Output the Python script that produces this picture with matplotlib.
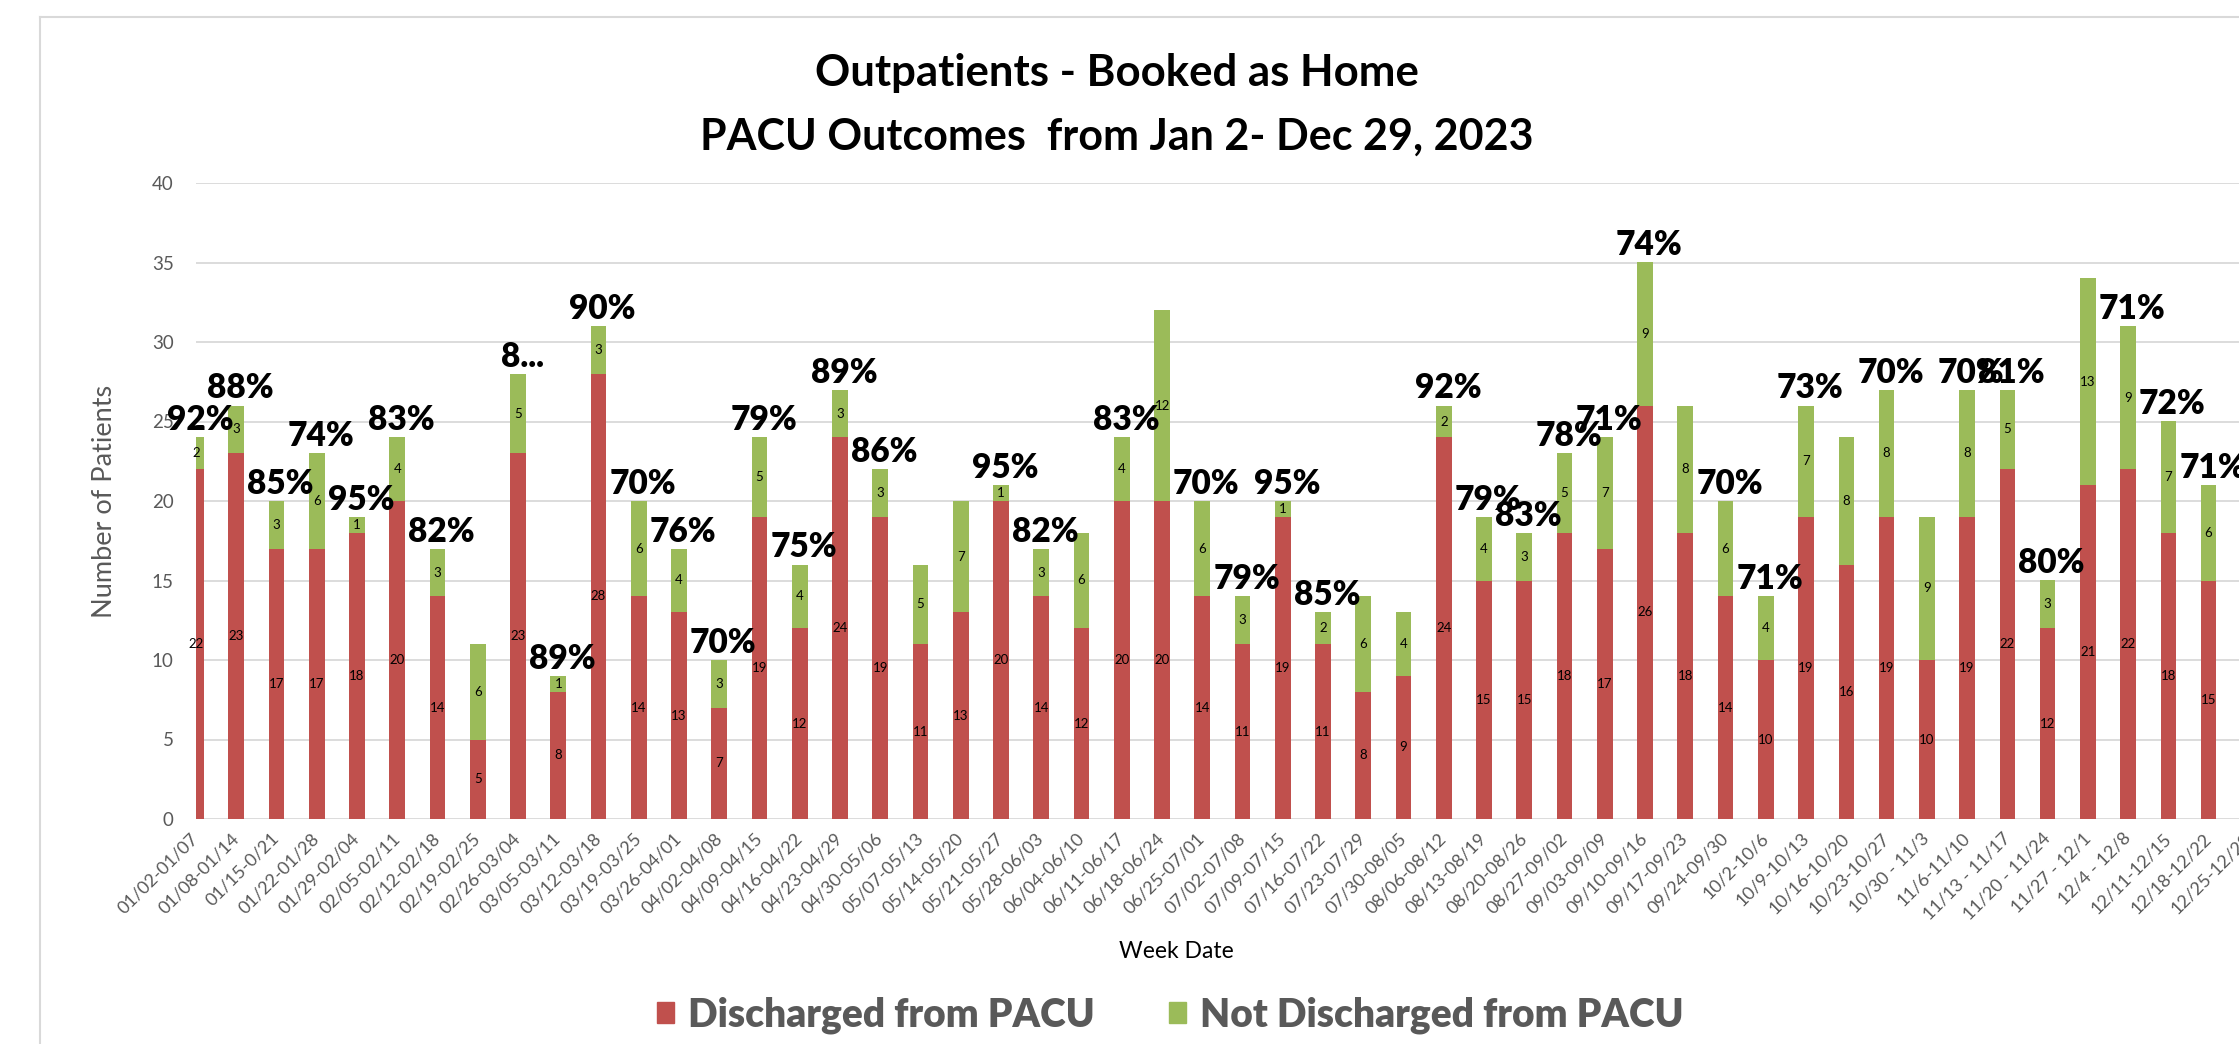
import matplotlib
matplotlib.use("Agg")
import matplotlib.pyplot as plt
from matplotlib.lines import Line2D
from matplotlib.patches import Patch

plt.rcParams['font.family'] = ['Lato', 'DejaVu Sans']

# week labels (last week is cut off at the right edge of the picture)
weeks = ['01/02-01/07', '01/08-01/14', '01/15-0/21', '01/22-01/28', '01/29-02/04',
         '02/05-02/11', '02/12-02/18', '02/19-02/25', '02/26-03/04', '03/05-03/11',
         '03/12-03/18', '03/19-03/25', '03/26-04/01', '04/02-04/08', '04/09-04/15',
         '04/16-04/22', '04/23-04/29', '04/30-05/06', '05/07-05/13', '05/14-05/20',
         '05/21-05/27', '05/28-06/03', '06/04-06/10', '06/11-06/17', '06/18-06/24',
         '06/25-07/01', '07/02-07/08', '07/09-07/15', '07/16-07/22', '07/23-07/29',
         '07/30-08/05', '08/06-08/12', '08/13-08/19', '08/20-08/26', '08/27-09/02',
         '09/03-09/09', '09/10-09/16', '09/17-09/23', '09/24-09/30', '10/2-10/6',
         '10/9-10/13', '10/16-10/20', '10/23-10/27', '10/30 - 11/3', '11/6-11/10',
         '11/13 - 11/17', '11/20 - 11/24', '11/27 - 12/1', '12/4 - 12/8', '12/11-12/15',
         '12/18-12/22', '12/25-12/29']

discharged = [22, 23, 17, 17, 18, 20, 14, 5, 23, 8,
              28, 14, 13, 7, 19, 12, 24, 19, 11, 13,
              20, 14, 12, 20, 20, 14, 11, 19, 11, 8,
              9, 24, 15, 15, 18, 17, 26, 18, 14, 10,
              19, 16, 19, 10, 19, 22, 12, 21, 22, 18,
              15]
not_discharged = [2, 3, 3, 6, 1, 4, 3, 6, 5, 1,
                  3, 6, 4, 3, 5, 4, 3, 3, 5, 7,
                  1, 3, 6, 4, 12, 6, 3, 1, 2, 6,
                  4, 2, 4, 3, 5, 7, 9, 8, 6, 4,
                  7, 8, 8, 9, 8, 5, 3, 13, 9, 7,
                  6]
# percentage labels as shown (only weeks at or above 70%)
pct_labels = ['92%', '88%', '85%', '74%', '95%', '83%', '82%', '', '8...', '89%',
              '90%', '70%', '76%', '70%', '79%', '75%', '89%', '86%', '', '',
              '95%', '82%', '', '83%', '', '70%', '79%', '95%', '85%', '',
              '', '92%', '79%', '83%', '78%', '71%', '74%', '', '70%', '71%',
              '73%', '', '70%', '', '70%', '81%', '80%', '', '71%', '72%',
              '71%']

RED = '#C0504D'
GREEN = '#9BBB59'
GRID = '#D9D9D9'
GRAY = '#595959'

W, H = 2239, 1044
fig = plt.figure(figsize=(W / 100, H / 100), dpi=100)

# plot area: x=0 sits on the left edge, right edge runs past the picture
left_px, right_px, top_px, bottom_px = 196, 2269, 183, 819
ax = fig.add_axes([left_px / W, 1 - bottom_px / H,
                   (right_px - left_px) / W, (bottom_px - top_px) / H])

x = list(range(len(discharged)))
ax.bar(x, discharged, width=0.39, color=RED, zorder=2, label='Discharged from PACU')
ax.bar(x, not_discharged, width=0.39, bottom=discharged, color=GREEN, zorder=2,
       label='Not Discharged from PACU')

for i in x:
    d, n = discharged[i], not_discharged[i]
    ax.text(i, d / 2, str(d), ha='center', va='center', fontsize=9.5,
            color='black', zorder=3, clip_on=False)
    ax.text(i, d + n / 2, str(n), ha='center', va='center', fontsize=9.5,
            color='black', zorder=3, clip_on=False)
    if pct_labels[i]:
        ax.text(i + 0.1, d + n + 0.45, pct_labels[i], ha='center', va='baseline',
                fontsize=24, fontweight='heavy', color='black', zorder=4,
                clip_on=False)

ax.set_xlim(0, 51.5)
ax.set_ylim(0, 40)
ax.set_yticks(range(0, 41, 5))
ax.tick_params(axis='y', length=0, pad=16, labelsize=13.5, labelcolor=GRAY)
ax.set_xticks(range(len(weeks)))
ax.set_xticklabels(weeks, rotation=45, ha='right', va='center',
                   rotation_mode='anchor', fontsize=13, color=GRAY)
ax.tick_params(axis='x', length=0, pad=12)
ax.grid(axis='y', color=GRID, linewidth=1.3, zorder=0)
ax.set_axisbelow(True)
for s in ax.spines.values():
    s.set_visible(False)

# titles and axis names
fig.text(1117 / W, 1 - 73 / H, 'Outpatients - Booked as Home', ha='center',
         va='center', fontsize=31.5, fontweight='bold')
fig.text(1117 / W, 1 - 137 / H, 'PACU Outcomes  from Jan 2- Dec 29, 2023',
         ha='center', va='center', fontsize=31, fontweight='bold')
fig.text(104 / W, 1 - 501 / H, 'Number of Patients', rotation=90, ha='center',
         va='center', fontsize=19.5, color=GRAY)
fig.text(1176 / W, 1 - 952 / H, 'Week Date', ha='center', va='center', fontsize=16.5)

handles = [Patch(color=RED), Patch(color=GREEN)]
fig.legend(handles, ['Discharged from PACU', 'Not Discharged from PACU'],
           loc='center', bbox_to_anchor=(1170 / W, 1 - 1015 / H), ncol=2,
           frameon=False, handlelength=0.45, handleheight=0.45,
           handletextpad=0.35, columnspacing=1.9,
           prop={'size': 28, 'weight': 'heavy'}, labelcolor=GRAY)

# chart area border (left and top edges visible)
fig.add_artist(Line2D([40 / W, 40 / W], [1 - 17 / H, 0], color=GRID, linewidth=1.5))
fig.add_artist(Line2D([40 / W, 1], [1 - 17 / H, 1 - 17 / H], color=GRID, linewidth=1.5))

fig.savefig('out.png', dpi=100)
